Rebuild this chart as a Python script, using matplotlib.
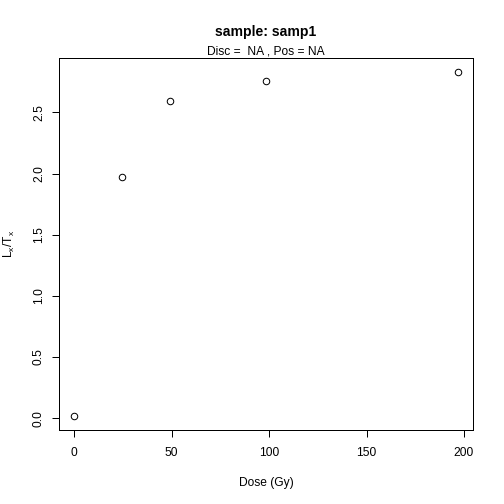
import matplotlib
matplotlib.use('Agg')
import matplotlib.pyplot as plt
import numpy as np

# data
dose = [0.0, 24.6, 49.2, 98.4, 196.8]
lxtx = [0.016, 1.97, 2.594, 2.76, 2.83]
xticks = [0, 50, 100, 150, 200]
yticks = [0.0, 0.5, 1.0, 1.5, 2.0, 2.5]

plt.rcParams['font.family'] = ['Liberation Sans', 'DejaVu Sans']
plt.rcParams['mathtext.fontset'] = 'custom'
plt.rcParams['mathtext.rm'] = 'Liberation Sans'
plt.rcParams['mathtext.it'] = 'Liberation Sans'


def rlim(v):
    # R style 4% range expansion
    lo, hi = min(v), max(v)
    d = (hi - lo) * 0.04
    return lo - d, hi + d


fig = plt.figure(figsize=(7, 7), dpi=72)
ax = fig.add_axes([59 / 504, 1 - 430 / 504, (473 - 59) / 504, (430 - 58.3) / 504])

ax.plot(dose, lxtx, linestyle='none', marker='o', markersize=6.5,
        markerfacecolor='none', markeredgecolor='black', markeredgewidth=1)

ax.set_xlim(*rlim(dose))
ax.set_ylim(*rlim(lxtx))
ax.set_xticks(xticks)
ax.set_xticklabels([str(t) for t in xticks])
ax.set_yticks(yticks)
ax.set_yticklabels(['%.1f' % t for t in yticks], rotation=90, va='center')
ax.tick_params(axis='both', direction='out', length=7, width=1, labelsize=12,
               color='black')
ax.tick_params(axis='x', pad=10)
ax.tick_params(axis='y', pad=7)
for s in ax.spines.values():
    s.set_linewidth(1)
    s.set_color('black')

ax.set_xlabel('Dose (Gy)', fontsize=12, labelpad=18)
ax.set_ylabel(r'$\mathrm{L_x/T_x}$', fontsize=12, labelpad=16)

# titles are centred on the plot region, like R does
ax.text(266 / 504, 1 - 36 / 504, 'sample: samp1', transform=fig.transFigure,
        ha='center', va='baseline', fontsize=14, fontweight='bold')
ax.text(266 / 504, 1 - 54.5 / 504, 'Disc =  NA , Pos = NA', transform=fig.transFigure,
        ha='center', va='baseline', fontsize=12)

fig.savefig('out.png', dpi=72)
